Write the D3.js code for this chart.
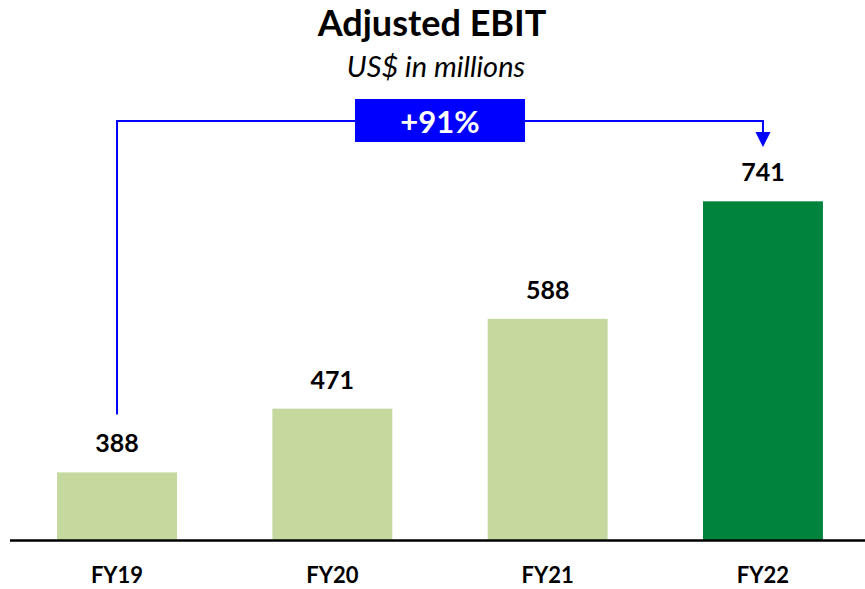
<!DOCTYPE html>
<html><head><meta charset="utf-8">
<script src="https://cdn.jsdelivr.net/npm/d3@7"></script>
<style>body{margin:0;background:#fff;}svg{display:block;font-family:Lato,"Open Sans",sans-serif;}</style>
</head><body>
<script>
const categories = ["FY19","FY20","FY21","FY22"];
const values = [388, 471, 588, 741];
const barColors = ["#C5D89D","#C5D89D","#C5D89D","#00843D"];
const title = "Adjusted EBIT";
const subtitle = "US$ in millions";
const growthLabel = "+91%";

const W = 865, H = 589;
const svg = d3.select("body").append("svg").attr("width", W).attr("height", H);

const x = d3.scaleBand().domain(categories).range([14, 866]).paddingInner(0.443).paddingOuter(0.2);
const y = d3.scaleLinear().domain([300, 800]).range([540, 156]);

svg.selectAll("rect.bar").data(values).join("rect")
  .attr("class","bar")
  .attr("x", (d,i) => x(categories[i]))
  .attr("width", x.bandwidth())
  .attr("y", d => y(d))
  .attr("height", d => y(300) - y(d))
  .attr("fill", (d,i) => barColors[i]);

// baseline axis
svg.append("line").attr("x1",10).attr("x2",865).attr("y1",y(300)+0.5).attr("y2",y(300)+0.5)
  .attr("stroke","#000").attr("stroke-width",2.5);

// value labels
svg.selectAll("text.val").data(values).join("text")
  .attr("class","val")
  .attr("x",(d,i)=>x(categories[i])+x.bandwidth()/2)
  .attr("y", d => y(d) - 20)
  .attr("text-anchor","middle").attr("font-weight","bold").attr("font-size",25)
  .attr("fill","#000").text(d=>d);

// category labels
svg.selectAll("text.cat").data(categories).join("text")
  .attr("class","cat")
  .attr("x", d => x(d)+x.bandwidth()/2)
  .attr("y", 583)
  .attr("text-anchor","middle").attr("font-weight","bold").attr("font-size",22)
  .attr("fill","#000").text(d=>d);

// title
svg.append("text").attr("x",432).attr("y",36).attr("text-anchor","middle")
  .attr("font-weight","bold").attr("font-size",36).text(title);
svg.append("text").attr("x",436).attr("y",77).attr("text-anchor","middle")
  .attr("font-style","italic").attr("font-size",29).text(subtitle);

// growth connector
const x0 = x(categories[0]) + x.bandwidth()/2;
const x1 = x(categories[3]) + x.bandwidth()/2;
const yTop = 121;
const yStart = y(values[0]) - 58;
svg.append("path")
  .attr("d", `M${x0},${yStart} V${yTop} H${x1} V${yTop+11}`)
  .attr("fill","none").attr("stroke","#0000FF").attr("stroke-width",2);
svg.append("path")
  .attr("d", `M${x1-7.5},${yTop+11} L${x1+7.5},${yTop+11} L${x1},${yTop+26} Z`)
  .attr("fill","#0000FF");

// growth box
svg.append("rect").attr("x",355).attr("y",99).attr("width",170).attr("height",43).attr("fill","#0000FF");
svg.append("text").attr("x",440).attr("y",133).attr("text-anchor","middle")
  .attr("font-weight","bold").attr("font-size",31).attr("fill","#fff").text(growthLabel);
</script>
</body></html>
